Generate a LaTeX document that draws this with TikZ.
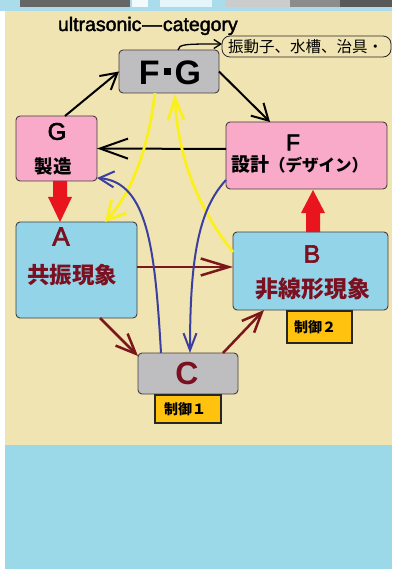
\documentclass[tikz,border=0pt]{standalone}
\usepackage{fontspec}
\setmainfont{Liberation Sans}
\newfontfamily\jp{Noto Sans CJK JP}
\newfontfamily\titlefont{Liberation Sans}[FakeBold=2]
\newfontfamily\latb{Liberation Sans}[FakeBold=2.5]
\usetikzlibrary{arrows.meta,calc}
\definecolor{beige}{RGB}{240,228,178}
\definecolor{bottomblue}{RGB}{155,217,233}
\definecolor{stripblue}{RGB}{170,220,236}
\definecolor{pinkbox}{RGB}{248,170,200}
\definecolor{bluebox}{RGB}{147,212,232}
\definecolor{greybox}{RGB}{190,190,192}
\definecolor{goldbox}{RGB}{255,194,14}
\definecolor{darkred}{RGB}{122,16,32}
\definecolor{maroon}{RGB}{123,22,26}
\definecolor{bluearrow}{RGB}{59,63,160}
\definecolor{yellowarrow}{RGB}{250,240,30}
\definecolor{redblock}{RGB}{232,20,30}
\definecolor{boxline}{RGB}{70,60,60}
\tikzset{
  box/.style={draw=boxline, line width=0.9pt, rounded corners=4pt, inner sep=0pt, outer sep=0pt},
  tag/.style={draw=black!85, line width=1.2pt, fill=goldbox, inner sep=0pt, outer sep=0pt},
  lbl/.style={inner sep=0pt, outer sep=0pt},
  blk/.style={draw=black, line width=2pt},
  mar/.style={draw=maroon, line width=2.5pt},
  blu/.style={draw=bluearrow, line width=2pt},
  yel/.style={draw=yellowarrow, line width=2.8pt},
}
\begin{document}
\begin{tikzpicture}[x=1pt,y=-1pt]
\useasboundingbox (0,0) rectangle (392,569);
% background
\fill[white] (0,0) rectangle (392,569);
\fill[stripblue] (0,0) rectangle (392,11);
\fill[black!60] (20,0) rectangle (130,7);
\fill[white!85!stripblue] (132,0) rectangle (148,7);
\fill[white!70!stripblue] (160,0) rectangle (212,7);
\fill[black!20] (225,0) rectangle (290,7);
\fill[black!45] (290,0) rectangle (392,7);
\fill[black!65] (340,0) rectangle (392,7);
\fill[beige] (5,11) rectangle (392,445);
\fill[bottomblue] (5,445) rectangle (392,569);

% title
\node[lbl, anchor=base west, font=\titlefont\fontsize{19.5}{20}\selectfont] (title) at (58,31) {ultrasonic\kern1pt—\kern1pt category};

% boxes
\node[box, fill=greybox, minimum width=100pt, minimum height=43pt] (FG) at (169,71.5) {};
\node[box, fill=pinkbox, minimum width=81pt, minimum height=65pt] (G) at (56.5,148.5) {};
\node[box, fill=pinkbox, minimum width=161pt, minimum height=67pt] (F) at (306.5,155.5) {};
\node[box, fill=bluebox, minimum width=121pt, minimum height=96pt] (A) at (76.5,270) {};
\node[box, fill=bluebox, minimum width=155pt, minimum height=78pt] (B) at (310.5,271) {};
\node[box, fill=greybox, minimum width=100pt, minimum height=41pt] (C) at (188,373.5) {};
\node[tag, minimum width=66pt, minimum height=28pt] (K1) at (188,409) {};
\node[tag, minimum width=65pt, minimum height=32pt] (K2) at (319.5,327) {};
\node[draw=black!85, line width=0.8pt, rounded corners=8pt, minimum width=169pt, minimum height=21pt, inner sep=0pt, outer sep=0pt] (call) at (306.5,46.5) {};

% labels
\node[lbl, font=\bfseries\fontsize{34}{34}\selectfont] (FGt) at (170,72.5) {F\kern4pt\raisebox{9.5pt}{\rule{7pt}{7pt}}\kern4pt G};
\node[lbl, font=\latb\fontsize{24}{24}\selectfont] (Gt) at (57,131.5) {G};
\node[lbl, font=\jp\bfseries\fontsize{18.5}{19}\selectfont] (Gj) at (53,166) {製造};
\node[lbl, font=\latb\fontsize{23}{23}\selectfont] (Ft) at (293,142.5) {F};
\node[lbl, anchor=base west, font=\jp\bfseries] (Fj) at (231,172) {\fontsize{19}{19}\selectfont 設計\fontsize{16.5}{17}\selectfont （デザイン）};
\node[lbl, text=darkred, font=\latb\fontsize{26}{26}\selectfont] (At) at (61,236.5) {A};
\node[lbl, text=darkred, font=\jp\bfseries\fontsize{22.5}{23}\selectfont] (Aj) at (72,275) {共振現象};
\node[lbl, text=darkred, font=\latb\fontsize{25}{25}\selectfont] (Bt) at (312,254) {B};
\node[lbl, text=darkred, font=\jp\bfseries\fontsize{23}{23}\selectfont] (Bj) at (312.5,288.5) {非線形現象};
\node[lbl, text=darkred, font=\bfseries\fontsize{32}{32}\selectfont] (Ct) at (187,373.5) {C};
\node[lbl, font=\jp\bfseries\fontsize{14}{14}\selectfont] (K1t) at (185,409) {制御１};
\node[lbl, font=\jp\bfseries\fontsize{14}{14}\selectfont] (K2t) at (315,327.5) {制御２};
\node[lbl, anchor=west, font=\jp\fontsize{15.5}{16}\selectfont] (callt) at (228,46.5) {振動子、水槽、治具・};

% black arrows
\draw[blk, line width=1.3pt, -{Straight Barb[length=7pt,width=9pt]}] ($(FG.north)+(9,0)$) .. controls (179,44) and (185,44) .. ($(call.west)+(0,-2.5)$);
\draw[blk, -{Straight Barb[length=16pt,width=18pt]}] ($(G.north)+(8.5,0)$) -- (FG.west);
\draw[blk, -{Straight Barb[length=16pt,width=18pt]}] (FG.east) -- ($(F.north west)+(44,0)$);
\draw[blk, -{Straight Barb[length=28pt,width=20pt]}] ($(F.west)+(0,-6.5)$) -- (G.east);

% red block arrows
\begin{scope}[shift={(G.south)}]
\fill[redblock] (-3.5,0) -- (10.5,0) -- (10.5,16) -- (15.5,16) -- (3.5,41) -- (-8.5,16) -- (-3.5,16) -- cycle;
\end{scope}
\begin{scope}[shift={(F.south)}]
\fill[redblock] (-0.5,43) -- (13.5,43) -- (13.5,24) -- (18.5,24) -- (6.5,1) -- (-5.5,24) -- (-0.5,24) -- cycle;
\end{scope}

% maroon arrows
\draw[mar, -{Straight Barb[length=28pt,width=17pt]}] ($(A.east)+(0,-3)$) -- ($(B.west)+(0,-4)$);
\draw[mar, -{Straight Barb[length=20pt,width=17pt]}] ($(A.south)+(23.5,0)$) -- ($(C.north west)+(0,3)$);
\draw[mar, -{Straight Barb[length=20pt,width=17pt]}] ($(C.north east)+(-15,0)$) -- ($(B.south west)+(31,0)$);

% yellow arrows
\draw[yel, -{Straight Barb[length=18pt,width=20pt]}] ($(FG.south)+(-14,0)$) .. controls (148,150) and (132,192) .. ($(A.north east)+(-32,0)$);
\draw[yel, -{Straight Barb[length=22pt,width=16pt]}] ($(B.west)+(0,-19)$) .. controls (195,205) and (177,150) .. ($(FG.south)+(6,1)$);

% blue arrows
\draw[blu, -{Straight Barb[length=15pt,width=16pt]}] ($(C.north west)+(23,0)$) .. controls (155,250) and (148,182) .. ($(G.south east)+(0,-3)$);
\draw[blu, -{Straight Barb[length=17pt,width=13pt]}] ($(F.south west)+(0,-9)$) .. controls (198,210) and (190,260) .. ($(C.north)+(2,0)$);
\end{tikzpicture}
\end{document}
